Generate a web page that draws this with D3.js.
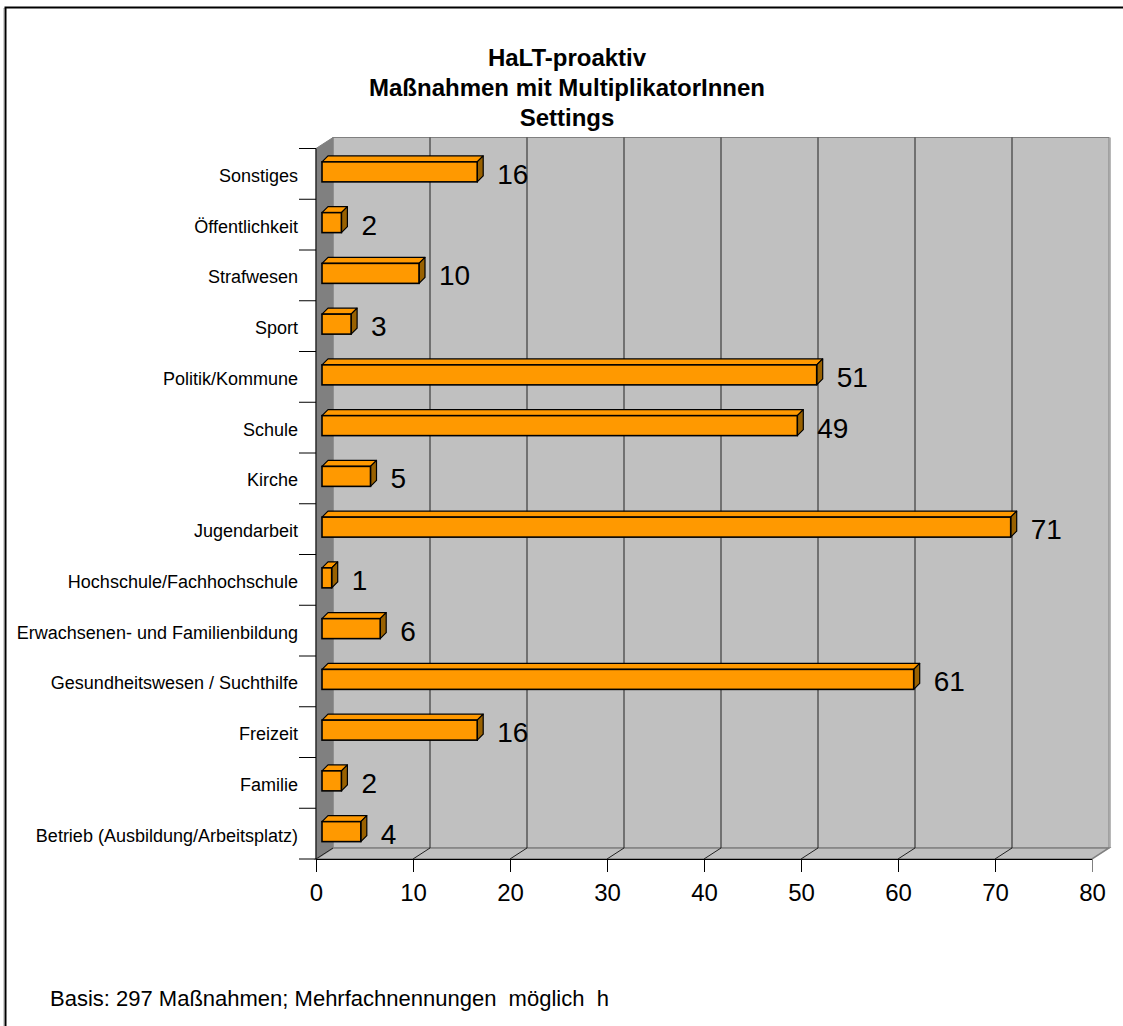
<!DOCTYPE html>
<html>
<head>
<meta charset="utf-8">
<script src="https://cdn.jsdelivr.net/npm/d3@7"></script>
<style>
  body { margin: 0; background: #fff; }
  svg { display: block; font-family: "Liberation Sans", Arial, sans-serif; }
</style>
</head>
<body>
<div id="chart"></div>
<script>
// data, top to bottom as in the picture
var categories = ["Sonstiges", "Öffentlichkeit", "Strafwesen", "Sport", "Politik/Kommune", "Schule", "Kirche",
  "Jugendarbeit", "Hochschule/Fachhochschule", "Erwachsenen- und Familienbildung",
  "Gesundheitswesen / Suchthilfe", "Freizeit", "Familie", "Betrieb (Ausbildung/Arbeitsplatz)"];
var values = [16, 2, 10, 3, 51, 49, 5, 71, 1, 6, 61, 16, 2, 4];
var xTicks = [0, 10, 20, 30, 40, 50, 60, 70, 80];
var titleLines = ["HaLT-proaktiv", "Maßnahmen mit MultiplikatorInnen", "Settings"];
var footnote = "Basis: 297 Maßnahmen; Mehrfachnennungen  möglich  h";

var width = 1123, height = 1026;
var depthX = 17, depthY = 11;   // depth of the 3d box
var barDX = 6, barDY = 6;       // depth of a bar

var svg = d3.select("#chart").append("svg")
  .attr("width", width)
  .attr("height", height);

// outer frame
svg.append("rect")
  .attr("x", 3.5).attr("y", 8.5).attr("width", 1140).attr("height", 1040)
  .attr("fill", "none").attr("stroke", "#d0d0d0").attr("stroke-width", 1);
svg.append("rect")
  .attr("x", 5.5).attr("y", 7.5).attr("width", 1140).attr("height", 1040)
  .attr("fill", "#fff").attr("stroke", "#000").attr("stroke-width", 2);

var x = d3.scaleLinear().domain([0, 80]).range([316, 1092]);
var y = d3.scaleBand().domain(categories).range([148.5, 859]).padding(0);

var plotTop = y.range()[0], plotBottom = y.range()[1];
var x0 = x(0), x1 = x(80);

// back wall
svg.append("rect")
  .attr("x", x0 + depthX).attr("y", plotTop - depthY)
  .attr("width", x1 - x0).attr("height", plotBottom - plotTop)
  .attr("fill", "#c0c0c0").attr("stroke", "#808080").attr("stroke-width", 1);
svg.append("line")
  .attr("x1", x1 + depthX + 1).attr("x2", x1 + depthX + 1)
  .attr("y1", plotTop - depthY).attr("y2", plotBottom - depthY)
  .attr("stroke", "#a0a0a0").attr("stroke-width", 1.5);

// left wall
svg.append("polygon")
  .attr("points", [[x0, plotTop], [x0 + depthX, plotTop - depthY], [x0 + depthX, plotBottom - depthY], [x0, plotBottom]].join(" "))
  .attr("fill", "#808080").attr("stroke", "#808080");

// floor
svg.append("polygon")
  .attr("points", [[x0, plotBottom], [x0 + depthX, plotBottom - depthY], [x1 + depthX, plotBottom - depthY], [x1, plotBottom]].join(" "))
  .attr("fill", "#c0c0c0").attr("stroke", "#808080").attr("stroke-width", 1.5);

// grid lines on back wall and floor
xTicks.slice(1, -1).forEach(function (t) {
  svg.append("line")
    .attr("x1", x(t) + depthX).attr("x2", x(t) + depthX)
    .attr("y1", plotTop - depthY).attr("y2", plotBottom - depthY)
    .attr("stroke", "#222").attr("stroke-width", 1);
});
xTicks.slice(0, -1).forEach(function (t) {
  svg.append("line")
    .attr("x1", x(t)).attr("y1", plotBottom)
    .attr("x2", x(t) + depthX).attr("y2", plotBottom - depthY)
    .attr("stroke", "#222").attr("stroke-width", 1);
});

// x axis
var xAxis = svg.append("g")
  .attr("transform", "translate(0," + plotBottom + ")")
  .call(d3.axisBottom(x).tickValues(xTicks).tickSize(13).tickPadding(12).tickSizeOuter(0));
xAxis.select(".domain").attr("stroke", "#000");
xAxis.selectAll(".tick line").attr("stroke", "#000");
xAxis.selectAll(".tick text")
  .attr("fill", "#000")
  .style("font-size", "24px")
  .style("font-family", "'Liberation Sans', Arial, sans-serif");
xAxis.select(".tick:last-child line").attr("stroke", "#808080");

// y axis line and ticks at band boundaries
svg.append("line")
  .attr("x1", x0).attr("x2", x0).attr("y1", plotTop).attr("y2", plotBottom)
  .attr("stroke", "#000");
categories.concat([null]).forEach(function (c) {
  var yy = c ? y(c) : plotBottom;
  svg.append("line")
    .attr("x1", x0 - 17).attr("x2", x0).attr("y1", yy).attr("y2", yy)
    .attr("stroke", "#000");
});

// category labels
svg.selectAll(".cat")
  .data(categories)
  .enter().append("text")
  .attr("class", "cat")
  .attr("x", 298)
  .attr("y", function (d) { return y(d) + y.bandwidth() / 2 + 8; })
  .attr("text-anchor", "end")
  .style("font-size", "18px")
  .text(function (d) { return d; });

// bars
var bars = svg.selectAll(".bar")
  .data(values)
  .enter().append("g")
  .attr("class", "bar");

bars.each(function (v, i) {
  var g = d3.select(this);
  var c = y(categories[i]) + y.bandwidth() / 2;
  var bx0 = x0 + 6, bx1 = x(v) + 6;
  var by0 = c - 12, by1 = c + 8;
  // top face
  g.append("polygon")
    .attr("points", [[bx0, by0], [bx0 + barDX, by0 - barDY], [bx1 + barDX, by0 - barDY], [bx1, by0]].join(" "))
    .attr("fill", "#ff9900").attr("stroke", "#000").attr("stroke-width", 1.2).attr("stroke-linejoin", "round");
  // side face
  g.append("polygon")
    .attr("points", [[bx1, by0], [bx1 + barDX, by0 - barDY], [bx1 + barDX, by1 - barDY], [bx1, by1]].join(" "))
    .attr("fill", "#996100").attr("stroke", "#000").attr("stroke-width", 1.2).attr("stroke-linejoin", "round");
  // front face
  g.append("rect")
    .attr("x", bx0).attr("y", by0)
    .attr("width", bx1 - bx0).attr("height", by1 - by0)
    .attr("fill", "#ff9900").attr("stroke", "#000").attr("stroke-width", 1.6);
  // value label
  g.append("text")
    .attr("x", bx1 + barDX + 14)
    .attr("y", c + 10)
    .style("font-size", "28px")
    .text(v);
});

// title
svg.append("text")
  .attr("text-anchor", "middle")
  .style("font-size", "24px")
  .style("font-weight", "bold")
  .selectAll("tspan")
  .data(titleLines)
  .enter().append("tspan")
  .attr("x", 567)
  .attr("y", function (d, i) { return 66 + i * 30; })
  .text(function (d) { return d; });

// footnote
svg.append("text")
  .attr("x", 50)
  .attr("y", 1006)
  .attr("xml:space", "preserve")
  .style("white-space", "pre")
  .style("font-size", "22px")
  .text(footnote);
</script>
</body>
</html>
